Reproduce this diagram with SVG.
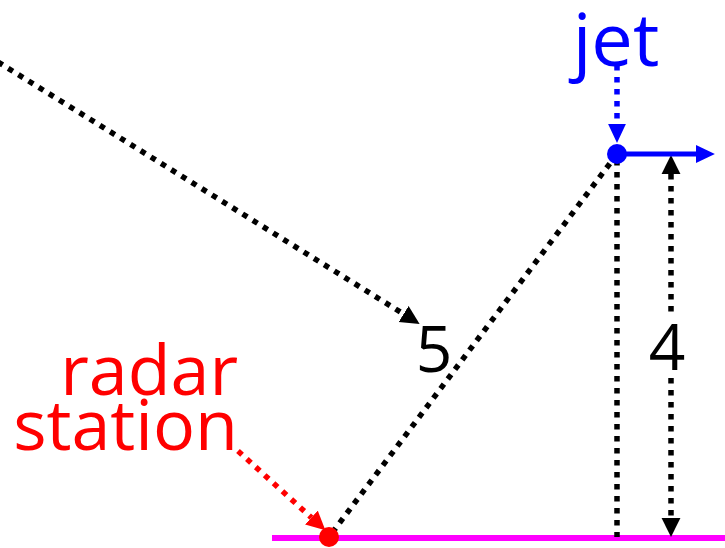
<svg xmlns="http://www.w3.org/2000/svg" width="725" height="548" viewBox="0 0 725 548">
<style>
.dot{fill:none;stroke-width:5.5;stroke-dasharray:5.5 6.5}
.k{stroke:#000}
.b{stroke:#0000ff}
.r{stroke:#ff0000}
.lbl{font-family:"Open Sans","DejaVu Sans","Liberation Sans",sans-serif;font-weight:400}
</style>
<defs>
<marker id="ak" markerUnits="userSpaceOnUse" markerWidth="20" markerHeight="20" viewBox="0 -9 18 18" refX="0" refY="0" orient="auto-start-reverse"><path d="M0,-8.5 L17,0 L0,8.5 z" fill="#000"/></marker>
<marker id="ab" markerUnits="userSpaceOnUse" markerWidth="20" markerHeight="20" viewBox="0 -9 18 18" refX="0" refY="0" orient="auto"><path d="M0,-8 L17,0 L0,8 z" fill="#0000ff"/></marker>
<marker id="ar" markerUnits="userSpaceOnUse" markerWidth="20" markerHeight="20" viewBox="0 -9 18 18" refX="0" refY="0" orient="auto"><path d="M0,-8.5 L17,0 L0,8.5 z" fill="#ff0000"/></marker>
</defs>
<rect width="725" height="548" fill="#fff"/>
<g id="ground"><line x1="272" y1="538" x2="725" y2="538" stroke="#ff00ff" stroke-width="6"/></g>
<g id="connectors">
<line class="dot k" x1="-2" y1="62" x2="403.6" y2="314" marker-end="url(#ak)"/>
<line class="dot k" x1="617" y1="154" x2="329" y2="537"/>
<line class="dot k" x1="617" y1="160" x2="617" y2="537"/>
<line class="dot k" x1="671" y1="174" x2="671" y2="518" marker-start="url(#ak)" marker-end="url(#ak)"/>
<line class="dot r" x1="238" y1="451" x2="311.4" y2="517.6" marker-end="url(#ar)"/>
<line class="dot b" x1="617" y1="65" x2="617" y2="124" marker-end="url(#ab)"/>
<line class="b" x1="617" y1="154" x2="696" y2="154" stroke-width="5" marker-end="url(#ab)"/>
</g>
<g id="jet">
<circle cx="617" cy="154" r="10" fill="#0000ff"/>
<text class="lbl" x="616" y="66" font-size="74" text-anchor="middle" fill="#0000ff">jet</text>
</g>
<g id="radar-station">
<circle cx="329" cy="537" r="10" fill="#ff0000"/>
<text class="lbl" font-size="70" text-anchor="end" fill="#ff0000"><tspan x="238" y="395">radar</tspan><tspan x="238" y="450">station</tspan></text>
</g>
<g id="label-5"><text class="lbl" x="434" y="372" font-size="64" text-anchor="middle" fill="#000">5</text></g>
<g id="label-4">
<rect x="645" y="318" width="46" height="59" fill="#fff"/>
<text class="lbl" x="667" y="370" font-size="64" text-anchor="middle" fill="#000">4</text>
</g>
</svg>
